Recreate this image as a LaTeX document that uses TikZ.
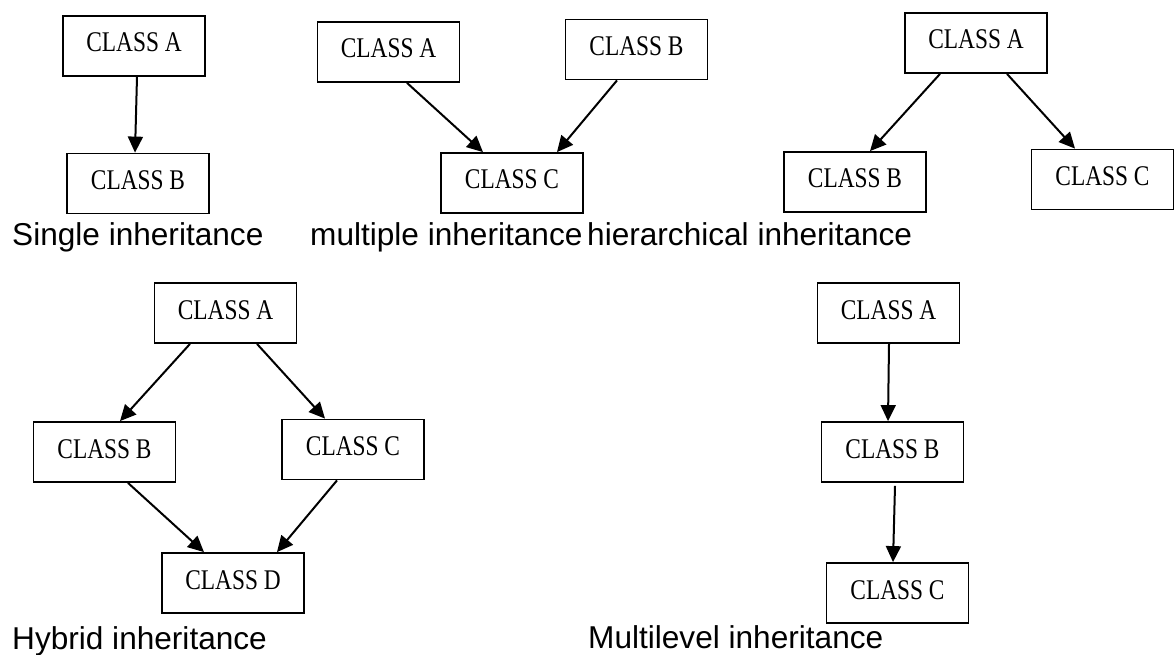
\documentclass[tikz,border=0pt]{standalone}
\usepackage{fontspec}
\setmainfont{Liberation Sans}
\newfontfamily\boxfont[FakeStretch=0.82]{Liberation Serif}
\usetikzlibrary{arrows.meta}
\begin{document}
\begin{tikzpicture}[x=1pt,y=-1pt,
  cls/.style={draw, line width=1.8pt, minimum width=142pt, minimum height=60pt, inner sep=0pt,
    font=\boxfont\fontsize{28.5}{28.5}\selectfont, text height=19pt, text depth=7pt},
  link/.style={-{Triangle[length=16pt,width=15pt]}, line width=2pt},
  lbl/.style={anchor=base west, inner sep=0pt, font=\fontsize{31.6}{32}\selectfont}]
\useasboundingbox (0,0) rectangle (1175,655);
% Single inheritance
\node[cls] (sA) at (134,46) {CLASS A};
\node[cls] (sB) at (138,183.5) {CLASS B};
\draw[link] ([xshift=3pt]sA.south) -- ([xshift=-3pt]sB.north);
% Multiple inheritance
\node[cls] (mA) at (388.5,52) {CLASS A};
\node[cls] (mB) at (636.5,49.5) {CLASS B};
\node[cls] (mC) at (512,183) {CLASS C};
\draw[link] ([xshift=18.5pt]mA.south) -- ([xshift=-29pt]mC.north);
\draw[link] ([xshift=-19.5pt]mB.south) -- ([xshift=45pt]mC.north);
% Hierarchical inheritance
\node[cls] (hA) at (976,43) {CLASS A};
\node[cls] (hB) at (855,182) {CLASS B};
\node[cls] (hC) at (1102.5,179.5) {CLASS C};
\draw[link] ([xshift=-36pt]hA.south) -- ([xshift=15pt]hB.north);
\draw[link] ([xshift=31pt]hA.south) -- ([xshift=-27.5pt]hC.north);
% Row 1 labels
\node[lbl] (l1) at (12,245) {Single inheritance};
\node[lbl] (l2) at (310,245) {multiple inheritance};
\node[lbl] (l3) at (587,245) {hierarchical inheritance};
% Hybrid inheritance
\node[cls] (yA) at (225.5,313) {CLASS A};
\node[cls] (yB) at (104.5,452) {CLASS B};
\node[cls] (yC) at (353,449.5) {CLASS C};
\node[cls] (yD) at (233,583) {CLASS D};
\draw[link] ([xshift=-35.5pt]yA.south) -- ([xshift=15.5pt]yB.north);
\draw[link] ([xshift=31.5pt]yA.south) -- ([xshift=-28pt]yC.north);
\draw[link] ([xshift=23.5pt]yB.south) -- ([xshift=-29pt]yD.north);
\draw[link] ([xshift=-16pt]yC.south) -- ([xshift=44pt]yD.north);
\node[lbl] (l4) at (12,649) {Hybrid inheritance};
% Multilevel inheritance
\node[cls] (lA) at (888.5,313) {CLASS A};
\node[cls] (lB) at (892.5,452) {CLASS B};
\node[cls] (lC) at (897.5,593) {CLASS C};
\draw[link] ([xshift=0.5pt]lA.south) -- ([xshift=-4.5pt]lB.north);
\draw[link] ([xshift=2.5pt,yshift=-3pt]lB.south) -- ([xshift=-4.5pt]lC.north);
\node[lbl] (l5) at (588,648) {Multilevel inheritance};
\end{tikzpicture}
\end{document}
